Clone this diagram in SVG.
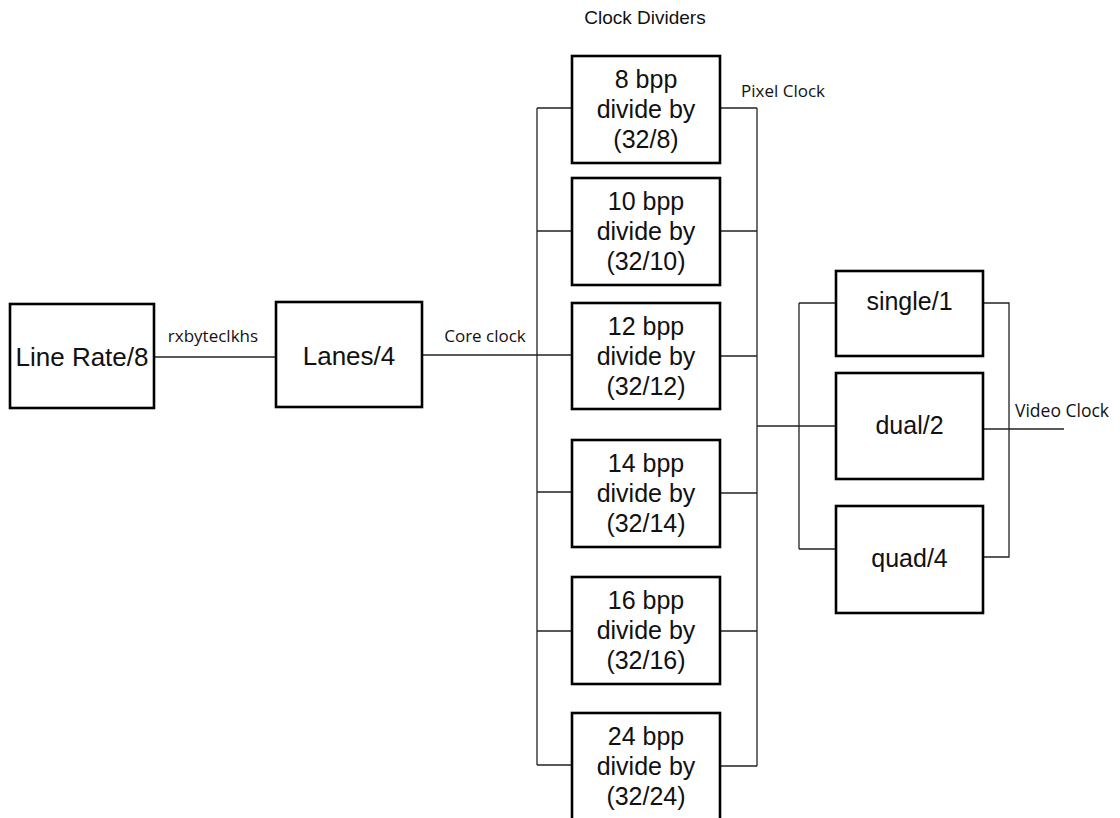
<svg xmlns="http://www.w3.org/2000/svg" width="1120" height="818" viewBox="0 0 1120 818">
<style>
.box{fill:#fff;stroke:#000;stroke-width:2.6}
.bt{font-family:"Liberation Sans",Arial,sans-serif;font-size:25px;fill:#111;text-anchor:middle}
.lbl{font-family:"Open Sans","Noto Sans",sans-serif;font-size:17px;fill:#111}
.c{fill:none;stroke:#222;stroke-width:1.3}
</style>
<rect width="1120" height="818" fill="#fff"/>
<g id="connectors">
<path class="c" d="M154 357H276"/>
<path class="c" d="M422 355H572"/>
<path class="c" d="M537 108V765"/>
<path class="c" d="M537 108H572M537 231H572M537 492H572M537 631H572M537 765H572"/>
<path class="c" d="M720 108H757M720 231H757M720 356H757M720 493H757M720 631H757M720 766H757"/>
<path class="c" d="M757 108V766"/>
<path class="c" d="M757 426H836"/>
<path class="c" d="M799 303V549M799 303H836M799 549H836"/>
<path class="c" d="M983 303H1009V557H983"/>
<path class="c" d="M983 429H1064"/>
</g>
<g id="labels">
<text class="lbl" x="645" y="24" text-anchor="middle" style="font-family:'Liberation Sans',Arial,sans-serif;font-size:19px">Clock Dividers</text>
<text class="lbl" x="741" y="97">Pixel Clock</text>
<text class="lbl" x="213" y="342" text-anchor="middle">rxbyteclkhs</text>
<text class="lbl" x="485" y="342" text-anchor="middle">Core clock</text>
<text class="lbl" x="1015" y="417" style="font-size:17.5px">Video Clock</text>
</g>
<g id="linerate"><rect class="box" x="10" y="304" width="144" height="104"/><text class="bt" x="82" y="366" style="font-size:26px">Line Rate/8</text></g>
<g id="lanes"><rect class="box" x="276" y="302" width="146" height="105"/><text class="bt" x="349" y="365" style="font-size:26px">Lanes/4</text></g>
<g id="d8"><rect class="box" x="572" y="56" width="148" height="107"/><text class="bt" x="646" y="88">8 bpp</text><text class="bt" x="646" y="118">divide by</text><text class="bt" x="646" y="148">(32/8)</text></g>
<g id="d10"><rect class="box" x="572" y="178" width="148" height="107"/><text class="bt" x="646" y="210">10 bpp</text><text class="bt" x="646" y="240">divide by</text><text class="bt" x="646" y="270">(32/10)</text></g>
<g id="d12"><rect class="box" x="572" y="303" width="148" height="106"/><text class="bt" x="646" y="335">12 bpp</text><text class="bt" x="646" y="365">divide by</text><text class="bt" x="646" y="395">(32/12)</text></g>
<g id="d14"><rect class="box" x="572" y="440" width="148" height="107"/><text class="bt" x="646" y="472">14 bpp</text><text class="bt" x="646" y="502">divide by</text><text class="bt" x="646" y="532">(32/14)</text></g>
<g id="d16"><rect class="box" x="572" y="577" width="148" height="107"/><text class="bt" x="646" y="609">16 bpp</text><text class="bt" x="646" y="639">divide by</text><text class="bt" x="646" y="669">(32/16)</text></g>
<g id="d24"><rect class="box" x="572" y="713" width="148" height="112"/><text class="bt" x="646" y="745">24 bpp</text><text class="bt" x="646" y="775">divide by</text><text class="bt" x="646" y="805">(32/24)</text></g>
<g id="single"><rect class="box" x="836" y="271" width="147" height="85"/><text class="bt" x="909.5" y="310">single/1</text></g>
<g id="dual"><rect class="box" x="836" y="373" width="147" height="106"/><text class="bt" x="909.5" y="434">dual/2</text></g>
<g id="quad"><rect class="box" x="836" y="506" width="147" height="107"/><text class="bt" x="909.5" y="567">quad/4</text></g>
</svg>
